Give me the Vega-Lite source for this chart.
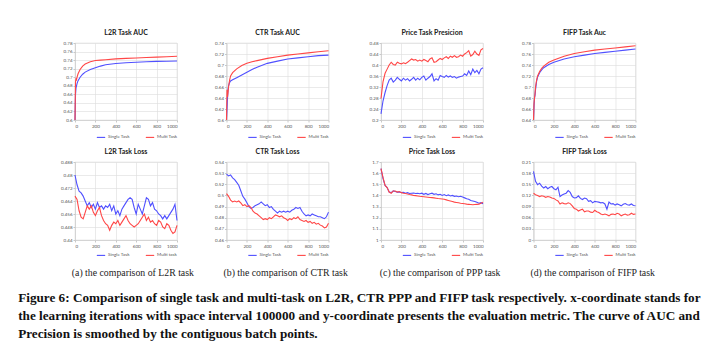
{
  "$schema": "https://vega.github.io/schema/vega-lite/v6.json",
  "background": "white",
  "padding": {"left": 18, "top": 28, "right": 5, "bottom": 5},
  "spacing": 19.5,
  "config": {
    "view": {"stroke": "#d9d9d9", "strokeWidth": 0.6},
    "axis": {"labelFont": "Lato", "labelFontSize": 4.5, "labelColor": "#555", "gridColor": "#dcdcdc", "gridWidth": 0.6, "domainColor": "#c8c8c8", "domainWidth": 0.6, "tickColor": "#c8c8c8", "tickSize": 2, "labelPadding": 1, "title": null, "labelOverlap": false},
    "title": {"font": "Lato", "fontSize": 7, "fontWeight": "bold", "color": "#222", "offset": 4},
    "legend": {"orient": "none", "direction": "horizontal", "symbolType": "stroke", "symbolSize": 70, "symbolStrokeWidth": 1.3, "labelFont": "Lato", "labelFontSize": 4.5, "labelColor": "#555", "columnPadding": 13, "padding": 0, "title": null, "labelOffset": 2},
    "line": {"strokeWidth": 1.1}
  },
  "title": {"text": ["Figure 6: Comparison of single task and multi-task on L2R, CTR PPP and FIFP task respectively. x-coordinate stands for", "the learning iterations with space interval 100000 and y-coordinate presents the evaluation metric. The curve of AUC and", "Precision is smoothed by the contiguous batch points."], "orient": "bottom", "anchor": "start", "font": "Liberation Serif", "fontSize": 13.2, "fontWeight": "bold", "color": "#111", "lineHeight": 18, "offset": 14, "dx": -42},
  "datasets": {
    "l2rauc": [
      {"x":0,"Single Task":0.6,"Multi Task":0.6},{"x":5,"Single Task":0.66,"Multi Task":0.69},{"x":10,"Single Task":0.675,"Multi Task":0.696},{"x":15,"Single Task":0.68,"Multi Task":0.694},{"x":20,"Single Task":0.685,"Multi Task":0.7},{"x":30,"Single Task":0.692,"Multi Task":0.708},{"x":50,"Single Task":0.7,"Multi Task":0.718},{"x":75,"Single Task":0.707,"Multi Task":0.726},{"x":100,"Single Task":0.712,"Multi Task":0.731},{"x":150,"Single Task":0.718,"Multi Task":0.736},{"x":200,"Single Task":0.722,"Multi Task":0.739},{"x":250,"Single Task":0.726,"Multi Task":0.74},{"x":300,"Single Task":0.729,"Multi Task":0.741},{"x":400,"Single Task":0.732,"Multi Task":0.743},{"x":500,"Single Task":0.734,"Multi Task":0.744},{"x":600,"Single Task":0.735,"Multi Task":0.745},{"x":700,"Single Task":0.736,"Multi Task":0.746},{"x":800,"Single Task":0.737,"Multi Task":0.747},{"x":900,"Single Task":0.7375,"Multi Task":0.748},{"x":1000,"Single Task":0.738,"Multi Task":0.749}
    ],
    "ctrauc": [
      {"x":0,"Single Task":0.6,"Multi Task":0.6},{"x":5,"Single Task":0.62,"Multi Task":0.655},{"x":10,"Single Task":0.64,"Multi Task":0.642},{"x":15,"Single Task":0.655,"Multi Task":0.65},{"x":20,"Single Task":0.662,"Multi Task":0.66},{"x":30,"Single Task":0.668,"Multi Task":0.672},{"x":40,"Single Task":0.671,"Multi Task":0.68},{"x":60,"Single Task":0.673,"Multi Task":0.686},{"x":100,"Single Task":0.677,"Multi Task":0.693},{"x":150,"Single Task":0.682,"Multi Task":0.699},{"x":200,"Single Task":0.687,"Multi Task":0.703},{"x":250,"Single Task":0.692,"Multi Task":0.706},{"x":300,"Single Task":0.696,"Multi Task":0.708},{"x":400,"Single Task":0.703,"Multi Task":0.712},{"x":500,"Single Task":0.707,"Multi Task":0.715},{"x":600,"Single Task":0.711,"Multi Task":0.718},{"x":700,"Single Task":0.713,"Multi Task":0.72},{"x":800,"Single Task":0.715,"Multi Task":0.722},{"x":900,"Single Task":0.717,"Multi Task":0.724},{"x":1000,"Single Task":0.718,"Multi Task":0.726}
    ],
    "fifpauc": [
      {"x":0,"Single Task":0.64,"Multi Task":0.64},{"x":5,"Single Task":0.665,"Multi Task":0.67},{"x":10,"Single Task":0.68,"Multi Task":0.68},{"x":15,"Single Task":0.685,"Multi Task":0.688},{"x":20,"Single Task":0.695,"Multi Task":0.7},{"x":30,"Single Task":0.71,"Multi Task":0.712},{"x":40,"Single Task":0.718,"Multi Task":0.72},{"x":60,"Single Task":0.726,"Multi Task":0.728},{"x":80,"Single Task":0.731,"Multi Task":0.734},{"x":100,"Single Task":0.735,"Multi Task":0.738},{"x":150,"Single Task":0.741,"Multi Task":0.745},{"x":200,"Single Task":0.745,"Multi Task":0.749},{"x":300,"Single Task":0.751,"Multi Task":0.756},{"x":400,"Single Task":0.755,"Multi Task":0.761},{"x":500,"Single Task":0.758,"Multi Task":0.764},{"x":600,"Single Task":0.761,"Multi Task":0.767},{"x":700,"Single Task":0.763,"Multi Task":0.769},{"x":800,"Single Task":0.765,"Multi Task":0.771},{"x":900,"Single Task":0.767,"Multi Task":0.773},{"x":1000,"Single Task":0.769,"Multi Task":0.775}
    ],
    "priceprec": [
      {"x":0,"Single Task":0.222,"Multi Task":0.278},{"x":20,"Single Task":0.27,"Multi Task":0.34},{"x":40,"Single Task":0.3,"Multi Task":0.37},{"x":60,"Single Task":0.325,"Multi Task":0.385},{"x":80,"Single Task":0.345,"Multi Task":0.4},{"x":100,"Single Task":0.352,"Multi Task":0.41},{"x":120,"Single Task":0.338,"Multi Task":0.402},{"x":140,"Single Task":0.345,"Multi Task":0.4},{"x":160,"Single Task":0.355,"Multi Task":0.41},{"x":180,"Single Task":0.348,"Multi Task":0.406},{"x":200,"Single Task":0.342,"Multi Task":0.404},{"x":220,"Single Task":0.352,"Multi Task":0.408},{"x":240,"Single Task":0.345,"Multi Task":0.405},{"x":260,"Single Task":0.35,"Multi Task":0.41},{"x":280,"Single Task":0.342,"Multi Task":0.416},{"x":300,"Single Task":0.348,"Multi Task":0.422},{"x":320,"Single Task":0.355,"Multi Task":0.418},{"x":340,"Single Task":0.345,"Multi Task":0.42},{"x":360,"Single Task":0.352,"Multi Task":0.414},{"x":380,"Single Task":0.346,"Multi Task":0.418},{"x":400,"Single Task":0.355,"Multi Task":0.414},{"x":420,"Single Task":0.36,"Multi Task":0.42},{"x":440,"Single Task":0.345,"Multi Task":0.416},{"x":460,"Single Task":0.352,"Multi Task":0.412},{"x":480,"Single Task":0.358,"Multi Task":0.422},{"x":500,"Single Task":0.368,"Multi Task":0.426},{"x":520,"Single Task":0.342,"Multi Task":0.41},{"x":540,"Single Task":0.35,"Multi Task":0.412},{"x":560,"Single Task":0.345,"Multi Task":0.418},{"x":580,"Single Task":0.362,"Multi Task":0.424},{"x":600,"Single Task":0.358,"Multi Task":0.42},{"x":620,"Single Task":0.355,"Multi Task":0.426},{"x":640,"Single Task":0.362,"Multi Task":0.43},{"x":660,"Single Task":0.356,"Multi Task":0.424},{"x":680,"Single Task":0.36,"Multi Task":0.432},{"x":700,"Single Task":0.355,"Multi Task":0.428},{"x":720,"Single Task":0.358,"Multi Task":0.434},{"x":740,"Single Task":0.352,"Multi Task":0.428},{"x":760,"Single Task":0.356,"Multi Task":0.43},{"x":780,"Single Task":0.358,"Multi Task":0.436},{"x":800,"Single Task":0.36,"Multi Task":0.432},{"x":820,"Single Task":0.368,"Multi Task":0.44},{"x":840,"Single Task":0.362,"Multi Task":0.445},{"x":860,"Single Task":0.378,"Multi Task":0.452},{"x":880,"Single Task":0.365,"Multi Task":0.432},{"x":900,"Single Task":0.385,"Multi Task":0.438},{"x":920,"Single Task":0.372,"Multi Task":0.45},{"x":940,"Single Task":0.38,"Multi Task":0.44},{"x":960,"Single Task":0.368,"Multi Task":0.435},{"x":980,"Single Task":0.385,"Multi Task":0.455},{"x":1000,"Single Task":0.39,"Multi Task":0.46}
    ],
    "l2rloss": [
      {"x":0,"Single Task":0.48,"Multi task":0.467},{"x":20,"Single Task":0.474,"Multi task":0.465},{"x":40,"Single Task":0.47,"Multi task":0.458},{"x":60,"Single Task":0.469,"Multi task":0.454},{"x":80,"Single Task":0.467,"Multi task":0.453},{"x":100,"Single Task":0.464,"Multi task":0.457},{"x":120,"Single Task":0.461,"Multi task":0.461},{"x":140,"Single Task":0.463,"Multi task":0.459},{"x":160,"Single Task":0.46,"Multi task":0.461},{"x":180,"Single Task":0.462,"Multi task":0.457},{"x":200,"Single Task":0.459,"Multi task":0.455},{"x":220,"Single Task":0.463,"Multi task":0.458},{"x":240,"Single Task":0.46,"Multi task":0.46},{"x":260,"Single Task":0.461,"Multi task":0.455},{"x":280,"Single Task":0.459,"Multi task":0.452},{"x":300,"Single Task":0.461,"Multi task":0.45},{"x":320,"Single Task":0.46,"Multi task":0.449},{"x":340,"Single Task":0.462,"Multi task":0.446},{"x":360,"Single Task":0.458,"Multi task":0.449},{"x":380,"Single Task":0.461,"Multi task":0.451},{"x":400,"Single Task":0.456,"Multi task":0.45},{"x":420,"Single Task":0.458,"Multi task":0.452},{"x":440,"Single Task":0.455,"Multi task":0.449},{"x":460,"Single Task":0.459,"Multi task":0.451},{"x":480,"Single Task":0.461,"Multi task":0.453},{"x":500,"Single Task":0.463,"Multi task":0.455},{"x":520,"Single Task":0.465,"Multi task":0.452},{"x":540,"Single Task":0.466,"Multi task":0.45},{"x":560,"Single Task":0.465,"Multi task":0.449},{"x":580,"Single Task":0.46,"Multi task":0.448},{"x":600,"Single Task":0.456,"Multi task":0.449},{"x":620,"Single Task":0.462,"Multi task":0.45},{"x":640,"Single Task":0.459,"Multi task":0.452},{"x":660,"Single Task":0.456,"Multi task":0.454},{"x":680,"Single Task":0.461,"Multi task":0.456},{"x":700,"Single Task":0.466,"Multi task":0.452},{"x":720,"Single Task":0.465,"Multi task":0.454},{"x":740,"Single Task":0.461,"Multi task":0.451},{"x":760,"Single Task":0.463,"Multi task":0.452},{"x":780,"Single Task":0.459,"Multi task":0.45},{"x":800,"Single Task":0.458,"Multi task":0.449},{"x":820,"Single Task":0.456,"Multi task":0.452},{"x":840,"Single Task":0.455,"Multi task":0.451},{"x":860,"Single Task":0.453,"Multi task":0.448},{"x":880,"Single Task":0.455,"Multi task":0.447},{"x":900,"Single Task":0.453,"Multi task":0.45},{"x":920,"Single Task":0.455,"Multi task":0.449},{"x":940,"Single Task":0.457,"Multi task":0.446},{"x":960,"Single Task":0.459,"Multi task":0.444},{"x":980,"Single Task":0.462,"Multi task":0.445},{"x":1000,"Single Task":0.452,"Multi task":0.449}
    ],
    "ctrloss": [
      {"x":0,"Single Task":0.527,"Multi Task":0.506},{"x":20,"Single Task":0.525,"Multi Task":0.503},{"x":40,"Single Task":0.526,"Multi Task":0.499},{"x":60,"Single Task":0.523,"Multi Task":0.497},{"x":80,"Single Task":0.521,"Multi Task":0.498},{"x":100,"Single Task":0.518,"Multi Task":0.497},{"x":120,"Single Task":0.515,"Multi Task":0.498},{"x":140,"Single Task":0.509,"Multi Task":0.496},{"x":160,"Single Task":0.503,"Multi Task":0.493},{"x":180,"Single Task":0.5,"Multi Task":0.494},{"x":200,"Single Task":0.496,"Multi Task":0.492},{"x":220,"Single Task":0.492,"Multi Task":0.493},{"x":240,"Single Task":0.49,"Multi Task":0.491},{"x":260,"Single Task":0.491,"Multi Task":0.487},{"x":280,"Single Task":0.493,"Multi Task":0.485},{"x":300,"Single Task":0.494,"Multi Task":0.484},{"x":320,"Single Task":0.495,"Multi Task":0.482},{"x":340,"Single Task":0.497,"Multi Task":0.48},{"x":360,"Single Task":0.495,"Multi Task":0.478},{"x":380,"Single Task":0.493,"Multi Task":0.479},{"x":400,"Single Task":0.494,"Multi Task":0.478},{"x":420,"Single Task":0.491,"Multi Task":0.48},{"x":440,"Single Task":0.492,"Multi Task":0.479},{"x":460,"Single Task":0.489,"Multi Task":0.481},{"x":480,"Single Task":0.487,"Multi Task":0.483},{"x":500,"Single Task":0.485,"Multi Task":0.482},{"x":520,"Single Task":0.487,"Multi Task":0.481},{"x":540,"Single Task":0.486,"Multi Task":0.482},{"x":560,"Single Task":0.487,"Multi Task":0.48},{"x":580,"Single Task":0.486,"Multi Task":0.479},{"x":600,"Single Task":0.487,"Multi Task":0.477},{"x":620,"Single Task":0.486,"Multi Task":0.479},{"x":640,"Single Task":0.488,"Multi Task":0.478},{"x":660,"Single Task":0.489,"Multi Task":0.48},{"x":680,"Single Task":0.491,"Multi Task":0.479},{"x":700,"Single Task":0.49,"Multi Task":0.481},{"x":720,"Single Task":0.491,"Multi Task":0.478},{"x":740,"Single Task":0.487,"Multi Task":0.477},{"x":760,"Single Task":0.484,"Multi Task":0.476},{"x":780,"Single Task":0.482,"Multi Task":0.477},{"x":800,"Single Task":0.483,"Multi Task":0.475},{"x":820,"Single Task":0.482,"Multi Task":0.476},{"x":840,"Single Task":0.484,"Multi Task":0.474},{"x":860,"Single Task":0.483,"Multi Task":0.475},{"x":880,"Single Task":0.482,"Multi Task":0.473},{"x":900,"Single Task":0.481,"Multi Task":0.474},{"x":920,"Single Task":0.481,"Multi Task":0.472},{"x":940,"Single Task":0.48,"Multi Task":0.471},{"x":960,"Single Task":0.479,"Multi Task":0.469},{"x":980,"Single Task":0.481,"Multi Task":0.47},{"x":1000,"Single Task":0.486,"Multi Task":0.474}
    ],
    "priceloss": [
      {"x":0,"Single Task":1.64,"Multi Task":1.64},{"x":20,"Single Task":1.55,"Multi Task":1.56},{"x":40,"Single Task":1.49,"Multi Task":1.49},{"x":60,"Single Task":1.47,"Multi Task":1.47},{"x":80,"Single Task":1.43,"Multi Task":1.43},{"x":100,"Single Task":1.425,"Multi Task":1.42},{"x":120,"Single Task":1.44,"Multi Task":1.44},{"x":140,"Single Task":1.435,"Multi Task":1.44},{"x":160,"Single Task":1.43,"Multi Task":1.43},{"x":180,"Single Task":1.43,"Multi Task":1.435},{"x":200,"Single Task":1.425,"Multi Task":1.425},{"x":220,"Single Task":1.428,"Multi Task":1.42},{"x":240,"Single Task":1.42,"Multi Task":1.418},{"x":260,"Single Task":1.425,"Multi Task":1.412},{"x":280,"Single Task":1.418,"Multi Task":1.408},{"x":300,"Single Task":1.42,"Multi Task":1.405},{"x":320,"Single Task":1.422,"Multi Task":1.4},{"x":340,"Single Task":1.418,"Multi Task":1.398},{"x":360,"Single Task":1.42,"Multi Task":1.395},{"x":380,"Single Task":1.415,"Multi Task":1.392},{"x":400,"Single Task":1.42,"Multi Task":1.39},{"x":420,"Single Task":1.41,"Multi Task":1.388},{"x":440,"Single Task":1.418,"Multi Task":1.386},{"x":460,"Single Task":1.408,"Multi Task":1.384},{"x":480,"Single Task":1.415,"Multi Task":1.382},{"x":500,"Single Task":1.42,"Multi Task":1.38},{"x":520,"Single Task":1.41,"Multi Task":1.378},{"x":540,"Single Task":1.415,"Multi Task":1.375},{"x":560,"Single Task":1.405,"Multi Task":1.372},{"x":580,"Single Task":1.41,"Multi Task":1.37},{"x":600,"Single Task":1.4,"Multi Task":1.368},{"x":620,"Single Task":1.408,"Multi Task":1.365},{"x":640,"Single Task":1.398,"Multi Task":1.36},{"x":660,"Single Task":1.405,"Multi Task":1.355},{"x":680,"Single Task":1.395,"Multi Task":1.35},{"x":700,"Single Task":1.4,"Multi Task":1.345},{"x":720,"Single Task":1.392,"Multi Task":1.34},{"x":740,"Single Task":1.395,"Multi Task":1.337},{"x":760,"Single Task":1.388,"Multi Task":1.334},{"x":780,"Single Task":1.392,"Multi Task":1.33},{"x":800,"Single Task":1.385,"Multi Task":1.328},{"x":820,"Single Task":1.378,"Multi Task":1.325},{"x":840,"Single Task":1.37,"Multi Task":1.322},{"x":860,"Single Task":1.365,"Multi Task":1.32},{"x":880,"Single Task":1.355,"Multi Task":1.318},{"x":900,"Single Task":1.35,"Multi Task":1.316},{"x":920,"Single Task":1.345,"Multi Task":1.318},{"x":940,"Single Task":1.338,"Multi Task":1.32},{"x":960,"Single Task":1.33,"Multi Task":1.322},{"x":980,"Single Task":1.335,"Multi Task":1.33},{"x":1000,"Single Task":1.325,"Multi Task":1.34}
    ],
    "fifploss": [
      {"x":0,"Single Task":0.185,"Multi Task":0.126},{"x":20,"Single Task":0.158,"Multi Task":0.122},{"x":40,"Single Task":0.149,"Multi Task":0.12},{"x":60,"Single Task":0.153,"Multi Task":0.117},{"x":80,"Single Task":0.145,"Multi Task":0.119},{"x":100,"Single Task":0.14,"Multi Task":0.118},{"x":120,"Single Task":0.144,"Multi Task":0.115},{"x":140,"Single Task":0.138,"Multi Task":0.117},{"x":160,"Single Task":0.142,"Multi Task":0.116},{"x":180,"Single Task":0.144,"Multi Task":0.113},{"x":200,"Single Task":0.138,"Multi Task":0.112},{"x":220,"Single Task":0.135,"Multi Task":0.108},{"x":240,"Single Task":0.142,"Multi Task":0.105},{"x":260,"Single Task":0.117,"Multi Task":0.097},{"x":280,"Single Task":0.121,"Multi Task":0.1},{"x":300,"Single Task":0.124,"Multi Task":0.098},{"x":320,"Single Task":0.126,"Multi Task":0.097},{"x":340,"Single Task":0.133,"Multi Task":0.1},{"x":360,"Single Task":0.128,"Multi Task":0.098},{"x":380,"Single Task":0.117,"Multi Task":0.092},{"x":400,"Single Task":0.113,"Multi Task":0.085},{"x":420,"Single Task":0.114,"Multi Task":0.083},{"x":440,"Single Task":0.119,"Multi Task":0.078},{"x":460,"Single Task":0.112,"Multi Task":0.081},{"x":480,"Single Task":0.109,"Multi Task":0.083},{"x":500,"Single Task":0.113,"Multi Task":0.076},{"x":520,"Single Task":0.111,"Multi Task":0.078},{"x":540,"Single Task":0.104,"Multi Task":0.078},{"x":560,"Single Task":0.106,"Multi Task":0.075},{"x":580,"Single Task":0.1,"Multi Task":0.074},{"x":600,"Single Task":0.104,"Multi Task":0.08},{"x":620,"Single Task":0.103,"Multi Task":0.076},{"x":640,"Single Task":0.102,"Multi Task":0.074},{"x":660,"Single Task":0.1,"Multi Task":0.07},{"x":680,"Single Task":0.101,"Multi Task":0.068},{"x":700,"Single Task":0.097,"Multi Task":0.07},{"x":720,"Single Task":0.083,"Multi Task":0.068},{"x":740,"Single Task":0.102,"Multi Task":0.065},{"x":760,"Single Task":0.097,"Multi Task":0.069},{"x":780,"Single Task":0.098,"Multi Task":0.07},{"x":800,"Single Task":0.094,"Multi Task":0.068},{"x":820,"Single Task":0.097,"Multi Task":0.072},{"x":840,"Single Task":0.095,"Multi Task":0.07},{"x":860,"Single Task":0.092,"Multi Task":0.065},{"x":880,"Single Task":0.096,"Multi Task":0.068},{"x":900,"Single Task":0.098,"Multi Task":0.07},{"x":920,"Single Task":0.095,"Multi Task":0.067},{"x":940,"Single Task":0.094,"Multi Task":0.068},{"x":960,"Single Task":0.097,"Multi Task":0.072},{"x":980,"Single Task":0.093,"Multi Task":0.069},{"x":1000,"Single Task":0.092,"Multi Task":0.07}
    ]
  },
  "hconcat": [
    {
      "title": {"text": "(a) the comparison of L2R task", "orient": "bottom", "anchor": "middle", "font": "Liberation Serif", "fontSize": 9.8, "fontWeight": "normal", "color": "#222", "offset": 10, "dx": 13},
      "spacing": 6,
      "resolve": {"scale": {"color": "independent"}},
      "vconcat": [
        {"title": "L2R Task AUC", "width": 102, "height": 77, "data": {"name": "l2rauc"},
         "transform": [{"fold": ["Single Task", "Multi Task"], "as": ["series", "value"]}],
         "mark": {"type": "line"},
         "encoding": {
           "x": {"field": "x", "type": "quantitative", "scale": {"domain": [0, 1000]}, "axis": {"values": [0, 200, 400, 600, 800, 1000], "format": "d"}},
           "y": {"field": "value", "type": "quantitative", "scale": {"domain": [0.6, 0.78]}, "axis": {"values": [0.6, 0.62, 0.64, 0.66, 0.68, 0.7, 0.72, 0.74, 0.76, 0.78], "format": "~g"}},
           "color": {"field": "series", "type": "nominal", "scale": {"domain": ["Single Task", "Multi Task"], "range": ["#5050ff", "#ff4646"]}, "legend": {"orient": "none", "legendX": 21, "legendY": 89}}
         }},
        {"title": "L2R Task Loss", "width": 102, "height": 78, "data": {"name": "l2rloss"},
         "transform": [{"fold": ["Single Task", "Multi task"], "as": ["series", "value"]}],
         "mark": {"type": "line"},
         "encoding": {
           "x": {"field": "x", "type": "quantitative", "scale": {"domain": [0, 1000]}, "axis": {"values": [0, 200, 400, 600, 800, 1000], "format": "d"}},
           "y": {"field": "value", "type": "quantitative", "scale": {"domain": [0.44, 0.488]}, "axis": {"values": [0.44, 0.448, 0.456, 0.464, 0.472, 0.48, 0.488], "format": "~g"}},
           "color": {"field": "series", "type": "nominal", "scale": {"domain": ["Single Task", "Multi task"], "range": ["#5050ff", "#ff4646"]}, "legend": {"orient": "none", "legendX": 21, "legendY": 88}}
         }}
      ]
    },
    {
      "title": {"text": "(b) the comparison of CTR task", "orient": "bottom", "anchor": "middle", "font": "Liberation Serif", "fontSize": 9.8, "fontWeight": "normal", "color": "#222", "offset": 10, "dx": 13},
      "spacing": 6,
      "resolve": {"scale": {"color": "independent"}},
      "vconcat": [
        {"title": "CTR Task AUC", "width": 102, "height": 77, "data": {"name": "ctrauc"},
         "transform": [{"fold": ["Single Task", "Multi Task"], "as": ["series", "value"]}],
         "mark": {"type": "line"},
         "encoding": {
           "x": {"field": "x", "type": "quantitative", "scale": {"domain": [0, 1000]}, "axis": {"values": [0, 200, 400, 600, 800, 1000], "format": "d"}},
           "y": {"field": "value", "type": "quantitative", "scale": {"domain": [0.6, 0.74]}, "axis": {"values": [0.6, 0.62, 0.64, 0.66, 0.68, 0.7, 0.72, 0.74], "format": "~g"}},
           "color": {"field": "series", "type": "nominal", "scale": {"domain": ["Single Task", "Multi Task"], "range": ["#5050ff", "#ff4646"]}, "legend": {"orient": "none", "legendX": 21, "legendY": 89}}
         }},
        {"title": "CTR Task Loss", "width": 102, "height": 78, "data": {"name": "ctrloss"},
         "transform": [{"fold": ["Single Task", "Multi Task"], "as": ["series", "value"]}],
         "mark": {"type": "line"},
         "encoding": {
           "x": {"field": "x", "type": "quantitative", "scale": {"domain": [0, 1000]}, "axis": {"values": [0, 200, 400, 600, 800, 1000], "format": "d"}},
           "y": {"field": "value", "type": "quantitative", "scale": {"domain": [0.456, 0.54]}, "axis": {"values": [0.456, 0.468, 0.48, 0.492, 0.504, 0.516, 0.528, 0.54], "format": "~g"}},
           "color": {"field": "series", "type": "nominal", "scale": {"domain": ["Single Task", "Multi Task"], "range": ["#5050ff", "#ff4646"]}, "legend": {"orient": "none", "legendX": 21, "legendY": 88}}
         }}
      ]
    },
    {
      "title": {"text": "(c) the comparison of PPP task", "orient": "bottom", "anchor": "middle", "font": "Liberation Serif", "fontSize": 9.8, "fontWeight": "normal", "color": "#222", "offset": 10, "dx": 13},
      "spacing": 6,
      "resolve": {"scale": {"color": "independent"}},
      "vconcat": [
        {"title": "Price Task Presicion", "width": 102, "height": 77, "data": {"name": "priceprec"},
         "transform": [{"fold": ["Single Task", "Multi Task"], "as": ["series", "value"]}],
         "mark": {"type": "line"},
         "encoding": {
           "x": {"field": "x", "type": "quantitative", "scale": {"domain": [0, 1000]}, "axis": {"values": [0, 200, 400, 600, 800, 1000], "format": "d"}},
           "y": {"field": "value", "type": "quantitative", "scale": {"domain": [0.2, 0.48]}, "axis": {"values": [0.2, 0.24, 0.28, 0.32, 0.36, 0.4, 0.44, 0.48], "format": "~g"}},
           "color": {"field": "series", "type": "nominal", "scale": {"domain": ["Single Task", "Multi Task"], "range": ["#5050ff", "#ff4646"]}, "legend": {"orient": "none", "legendX": 21, "legendY": 89}}
         }},
        {"title": "Price Task Loss", "width": 102, "height": 78, "data": {"name": "priceloss"},
         "transform": [{"fold": ["Single Task", "Multi Task"], "as": ["series", "value"]}],
         "mark": {"type": "line"},
         "encoding": {
           "x": {"field": "x", "type": "quantitative", "scale": {"domain": [0, 1000]}, "axis": {"values": [0, 200, 400, 600, 800, 1000], "format": "d"}},
           "y": {"field": "value", "type": "quantitative", "scale": {"domain": [1, 1.7]}, "axis": {"values": [1, 1.1, 1.2, 1.3, 1.4, 1.5, 1.6, 1.7], "format": "~g"}},
           "color": {"field": "series", "type": "nominal", "scale": {"domain": ["Single Task", "Multi Task"], "range": ["#5050ff", "#ff4646"]}, "legend": {"orient": "none", "legendX": 21, "legendY": 88}}
         }}
      ]
    },
    {
      "title": {"text": "(d) the comparison of FIFP task", "orient": "bottom", "anchor": "middle", "font": "Liberation Serif", "fontSize": 9.8, "fontWeight": "normal", "color": "#222", "offset": 10, "dx": 13},
      "spacing": 6,
      "resolve": {"scale": {"color": "independent"}},
      "vconcat": [
        {"title": "FIFP Task Auc", "width": 102, "height": 77, "data": {"name": "fifpauc"},
         "transform": [{"fold": ["Single Task", "Multi Task"], "as": ["series", "value"]}],
         "mark": {"type": "line"},
         "encoding": {
           "x": {"field": "x", "type": "quantitative", "scale": {"domain": [0, 1000]}, "axis": {"values": [0, 200, 400, 600, 800, 1000], "format": "d"}},
           "y": {"field": "value", "type": "quantitative", "scale": {"domain": [0.64, 0.78]}, "axis": {"values": [0.64, 0.66, 0.68, 0.7, 0.72, 0.74, 0.76, 0.78], "format": "~g"}},
           "color": {"field": "series", "type": "nominal", "scale": {"domain": ["Single Task", "Multi Task"], "range": ["#5050ff", "#ff4646"]}, "legend": {"orient": "none", "legendX": 21, "legendY": 89}}
         }},
        {"title": "FIFP Task Loss", "width": 102, "height": 78, "data": {"name": "fifploss"},
         "transform": [{"fold": ["Single Task", "Multi Task"], "as": ["series", "value"]}],
         "mark": {"type": "line"},
         "encoding": {
           "x": {"field": "x", "type": "quantitative", "scale": {"domain": [0, 1000]}, "axis": {"values": [0, 200, 400, 600, 800, 1000], "format": "d"}},
           "y": {"field": "value", "type": "quantitative", "scale": {"domain": [0, 0.21]}, "axis": {"values": [0, 0.03, 0.06, 0.09, 0.12, 0.15, 0.18, 0.21], "format": "~g"}},
           "color": {"field": "series", "type": "nominal", "scale": {"domain": ["Single Task", "Multi Task"], "range": ["#5050ff", "#ff4646"]}, "legend": {"orient": "none", "legendX": 21, "legendY": 88}}
         }}
      ]
    }
  ],
  "resolve": {"scale": {"color": "independent"}}
}
